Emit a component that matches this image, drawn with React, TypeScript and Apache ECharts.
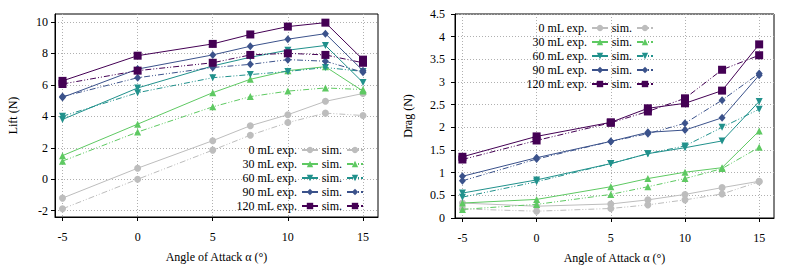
import React, { useEffect, useRef } from "react";
import * as echarts from "echarts";

const ANGLES = [-5, 0, 5, 7.5, 10, 12.5, 15];
const VOLUMES = ["0 mL", "30 mL", "60 mL", "90 mL", "120 mL"];
const X_TICKS = [-5, 0, 5, 10, 15];
const LIFT_TICKS = [-2, 0, 2, 4, 6, 8, 10];

// Lift (N), experiment
const LIFT_EXP_0 = [-1.2, 0.7, 2.45, 3.4, 4.1, 4.95, 5.45];
const LIFT_EXP_30 = [1.5, 3.5, 5.5, 6.35, 6.9, 7.15, 5.6];
const LIFT_EXP_60 = [3.8, 5.8, 7.2, 7.75, 8.2, 8.5, 6.15];
const LIFT_EXP_90 = [5.2, 7.0, 7.9, 8.45, 8.9, 9.25, 6.9];
const LIFT_EXP_120 = [6.25, 7.85, 8.6, 9.2, 9.7, 9.95, 7.6];
// Lift (N), simulation
const LIFT_SIM_0 = [-1.88, 0.0, 1.85, 2.8, 3.6, 4.2, 4.05];
const LIFT_SIM_30 = [1.15, 3.0, 4.6, 5.25, 5.6, 5.8, 5.7];
const LIFT_SIM_60 = [4.0, 5.5, 6.45, 6.65, 6.85, 7.1, 6.85];
const LIFT_SIM_90 = [5.25, 6.45, 7.1, 7.3, 7.6, 7.5, 6.8];
const LIFT_SIM_120 = [6.05, 6.9, 7.4, 7.9, 8.0, 7.9, 7.4];

// Drag (N), experiment
const DRAG_EXP_0 = [0.33, 0.26, 0.31, 0.4, 0.52, 0.67, 0.81];
const DRAG_EXP_30 = [0.33, 0.41, 0.69, 0.87, 1.01, 1.11, 1.92];
const DRAG_EXP_60 = [0.55, 0.84, 1.2, 1.42, 1.55, 1.7, 2.57];
const DRAG_EXP_90 = [0.92, 1.33, 1.69, 1.89, 1.94, 2.21, 3.15];
const DRAG_EXP_120 = [1.35, 1.8, 2.11, 2.42, 2.53, 2.81, 3.83];
// Drag (N), simulation
const DRAG_SIM_0 = [0.2, 0.15, 0.21, 0.29, 0.4, 0.53, 0.8];
const DRAG_SIM_30 = [0.19, 0.3, 0.52, 0.69, 0.87, 1.09, 1.56];
const DRAG_SIM_60 = [0.46, 0.8, 1.2, 1.42, 1.59, 2.0, 2.4];
const DRAG_SIM_90 = [0.82, 1.3, 1.69, 1.86, 2.09, 2.6, 3.19];
const DRAG_SIM_120 = [1.29, 1.71, 2.1, 2.35, 2.64, 3.27, 3.59];

const LIFT_EXP = [LIFT_EXP_0, LIFT_EXP_30, LIFT_EXP_60, LIFT_EXP_90, LIFT_EXP_120];
const LIFT_SIM = [LIFT_SIM_0, LIFT_SIM_30, LIFT_SIM_60, LIFT_SIM_90, LIFT_SIM_120];
const DRAG_EXP = [DRAG_EXP_0, DRAG_EXP_30, DRAG_EXP_60, DRAG_EXP_90, DRAG_EXP_120];
const DRAG_SIM = [DRAG_SIM_0, DRAG_SIM_30, DRAG_SIM_60, DRAG_SIM_90, DRAG_SIM_120];

// styles
const COLORS = ["#bdbdbd", "#5ec962", "#21918c", "#3b528b", "#440154"];
const SYMBOLS = ["circle", "triangle", "triangle", "diamond", "rect"];
const ROTATE = [0, 0, 180, 0, 0];
const SIZES: any[] = [7, 7, 7, [7, 8], 8];
const SIM_DASH = [6, 2, 1, 2, 1, 2];
const FONT = "'Liberation Serif', 'Times New Roman', serif";

function buildSeries(exp: number[][], sim: number[][], axisIndex: number, suffix: string) {
  const out: any[] = [];
  VOLUMES.forEach((v, k) => {
    const common = {
      type: "line",
      xAxisIndex: axisIndex,
      yAxisIndex: axisIndex,
      symbol: SYMBOLS[k],
      symbolRotate: ROTATE[k],
      symbolSize: SIZES[k],
      showAllSymbol: true,
      itemStyle: { color: COLORS[k] },
      emphasis: { disabled: true },
      z: 2 + k,
    };
    out.push({
      ...common,
      name: `${v} exp.` + suffix,
      data: ANGLES.map((a, i) => [a, exp[k][i]]),
      lineStyle: { color: COLORS[k], width: 1, type: "solid" },
    });
    out.push({
      ...common,
      name: `${v} sim.` + suffix,
      data: ANGLES.map((a, i) => [a, sim[k][i]]),
      lineStyle: { color: COLORS[k], width: 1, type: SIM_DASH },
    });
  });
  return out;
}

function xAxis(gridIndex: number) {
  return {
    type: "value",
    gridIndex,
    min: -5.5,
    max: 16,
    name: "Angle of Attack α (°)",
    nameLocation: "middle",
    nameGap: 34,
    nameTextStyle: { fontFamily: FONT, fontSize: 12, color: "#000" },
    axisLine: { show: true, onZero: false, lineStyle: { color: "#000", width: 1 } },
    axisTick: { show: true, inside: false, length: 4, customValues: X_TICKS, lineStyle: { color: "#000" } },
    axisLabel: { customValues: X_TICKS, margin: 14, fontFamily: FONT, fontSize: 12, color: "#000" },
    splitLine: { show: true, lineStyle: { color: "#b0b0b0", type: [1, 2], width: 1 } },
  };
}

function legendA(right: number, top: number, suffix: string) {
  return {
    orient: "vertical",
    align: "right",
    right,
    top,
    padding: 0,
    itemGap: 2,
    itemWidth: 16,
    itemHeight: 8,
    selectedMode: false,
    data: VOLUMES.map((v) => `${v} exp.` + suffix),
    formatter: (n: string) => n.replace(/\u200b/g, ""),
    textStyle: { fontFamily: FONT, fontSize: 12, color: "#000" },
  };
}

function legendB(right: number, top: number, suffix: string) {
  return {
    orient: "vertical",
    align: "right",
    right,
    top,
    padding: 0,
    itemGap: 2,
    itemWidth: 16,
    itemHeight: 8,
    selectedMode: false,
    data: VOLUMES.map((v) => `${v} sim.` + suffix),
    formatter: () => "sim.",
    textStyle: { fontFamily: FONT, fontSize: 12, color: "#000" },
  };
}

export default function App() {
  const ref = useRef<HTMLDivElement>(null);
  useEffect(() => {
    document.body.style.margin = "0";
    const chart = echarts.init(ref.current!, undefined, { renderer: "svg" });
    const Z = "\u200b";
    chart.setOption({
      animation: false,
      backgroundColor: "#fff",
      textStyle: { fontFamily: FONT, fontSize: 12, color: "#000" },
      grid: [
        { left: 55, right: 415, top: 14, bottom: 52, show: true, borderColor: "#000", borderWidth: 1, backgroundColor: "transparent" },
        { left: 455, right: 19, top: 14, bottom: 51, show: true, borderColor: "#000", borderWidth: 1, backgroundColor: "transparent" },
      ],
      xAxis: [xAxis(0), xAxis(1)],
      yAxis: [
        {
          type: "value",
          gridIndex: 0,
          min: -2.4,
          max: 10.5,
          name: "Lift (N)",
          nameLocation: "middle",
          nameGap: 36,
          nameTextStyle: { fontFamily: FONT, fontSize: 12, color: "#000" },
          axisLine: { show: true, onZero: false, lineStyle: { color: "#000" } },
          axisTick: { show: true, length: 4, customValues: LIFT_TICKS, lineStyle: { color: "#000" } },
          axisLabel: { customValues: LIFT_TICKS, margin: 7, fontFamily: FONT, fontSize: 12, color: "#000" },
          splitLine: { show: true, lineStyle: { color: "#b0b0b0", type: [1, 2], width: 1 } },
        },
        {
          type: "value",
          gridIndex: 1,
          min: 0,
          max: 4.5,
          interval: 0.5,
          name: "Drag (N)",
          nameLocation: "middle",
          nameGap: 41,
          nameTextStyle: { fontFamily: FONT, fontSize: 12, color: "#000" },
          axisLine: { show: true, onZero: false, lineStyle: { color: "#000" } },
          axisTick: { show: true, length: 4, lineStyle: { color: "#000" } },
          axisLabel: { margin: 10, fontFamily: FONT, fontSize: 12, color: "#000" },
          splitLine: { show: true, lineStyle: { color: "#b0b0b0", type: [1, 2], width: 1 } },
        },
      ],
      legend: [
        legendA(474, 144, ""),
        legendB(429, 144, ""),
        legendA(184, 22, Z),
        legendB(139, 22, Z),
      ],
      series: [
        ...buildSeries(LIFT_EXP, LIFT_SIM, 0, ""),
        ...buildSeries(DRAG_EXP, DRAG_SIM, 1, Z),
      ],
    });
    return () => chart.dispose();
  }, []);
  return <div ref={ref} style={{ position: "fixed", left: 0, top: 0, width: 793, height: 269 }} />;
}
